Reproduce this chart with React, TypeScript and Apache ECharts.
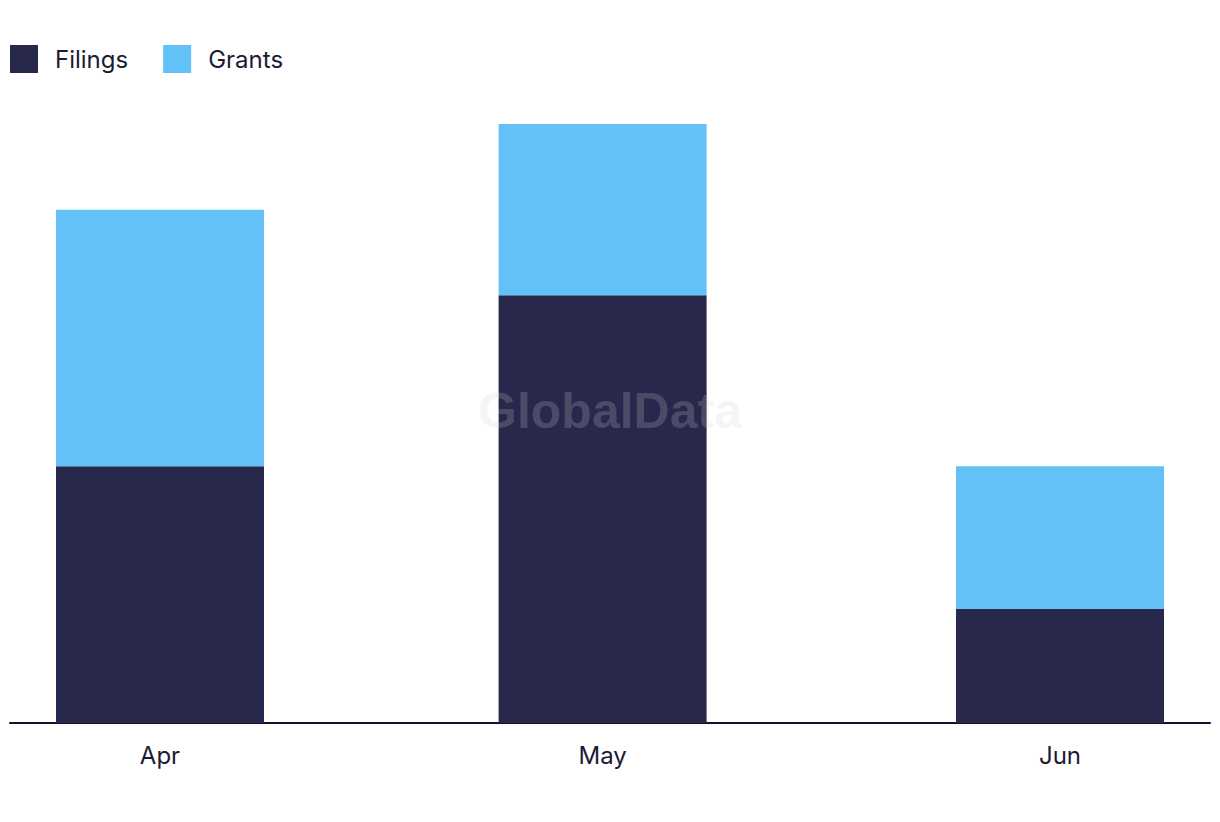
import React, { useEffect, useRef } from "react";
import * as echarts from "echarts";

const months = ["2024-04-01", "2024-05-01", "2024-06-01"];
const monthLabels = ["Apr", "May", "Jun"];
const filings = [9, 15, 4];
const grants = [9, 6, 5];

const DAY = 86400000;

export default function App() {
  const ref = useRef<HTMLDivElement>(null);
  useEffect(() => {
    if (!ref.current) return;
    const chart = echarts.init(ref.current, undefined, { renderer: "svg" });
    const t0 = new Date(months[0] + "T00:00:00Z").getTime();
    const days = months.map((m) => Math.round((new Date(m + "T00:00:00Z").getTime() - t0) / DAY));
    const minX = days[0] - 10.167;
    const maxX = days[days.length - 1] + 10.167;
    const font = "Inter, 'Noto Sans', sans-serif";
    chart.setOption({
      animation: false,
      backgroundColor: "#ffffff",
      color: ["#27284b", "#62c1f7"],
      legend: {
        left: 10,
        top: 45,
        padding: 0,
        itemWidth: 28,
        itemHeight: 28,
        itemGap: 35,
        icon: "rect",
        textStyle: {
          fontSize: 24,
          color: "#1b1b33",
          fontFamily: font,
          padding: [0, 0, 0, 12],
        },
        data: ["Filings", "Grants"],
      },
      grid: { left: 10, right: 10, top: 38.5, bottom: 99, containLabel: false },
      xAxis: {
        type: "value",
        min: minX,
        max: maxX,
        axisLine: { show: true, lineStyle: { color: "#12122a", width: 2 } },
        axisTick: { show: false },
        splitLine: { show: false },
        axisLabel: {
          customValues: days,
          margin: 20,
          fontSize: 24,
          color: "#1b1b33",
          fontFamily: font,
          formatter: (v: number) => {
            const i = days.indexOf(Math.round(v));
            return i >= 0 ? monthLabels[i] : "";
          },
        },
      },
      yAxis: {
        type: "value",
        min: 0,
        max: 24,
        show: false,
        splitLine: { show: false },
      },
      graphic: [
        {
          type: "text",
          left: "center",
          top: 386,
          z: 100,
          silent: true,
          style: {
            text: "GlobalData",
            fontSize: 50,
            fontWeight: "bold",
            fontFamily: "'Liberation Sans', Arial, sans-serif",
            fill: "rgba(207,207,207,0.21)",
          },
        },
      ],
      series: [
        {
          name: "Filings",
          type: "bar",
          stack: "total",
          barWidth: 208,
          encode: { x: 1, y: 0 },
          data: days.map((d, i) => [filings[i], d]),
        },
        {
          name: "Grants",
          type: "bar",
          stack: "total",
          barWidth: 208,
          encode: { x: 1, y: 0 },
          data: days.map((d, i) => [grants[i], d]),
        },
      ],
    });
    return () => chart.dispose();
  }, []);
  return (
    <div
      ref={ref}
      style={{ position: "absolute", left: 0, top: 0, width: 1220, height: 822 }}
    />
  );
}
